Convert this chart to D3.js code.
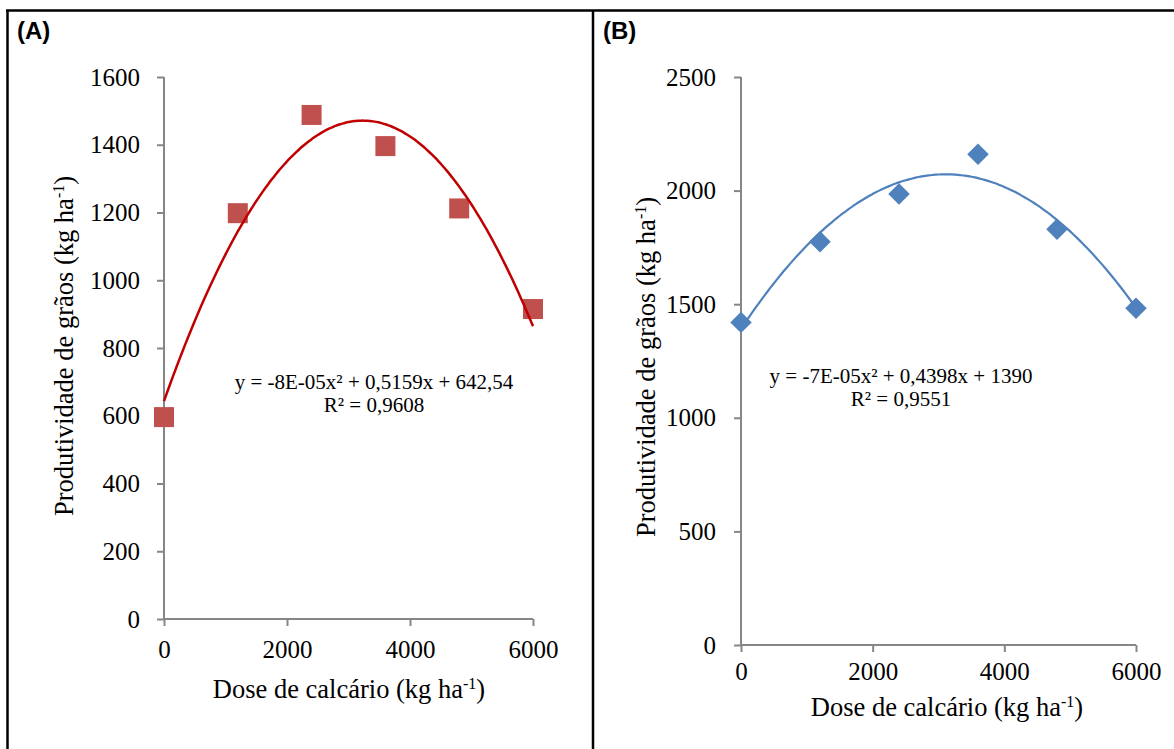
<!DOCTYPE html>
<html>
<head>
<meta charset="utf-8">
<script src="https://cdn.jsdelivr.net/npm/d3@7"></script>
<style>
  body { margin: 0; background: #fff; }
</style>
</head>
<body>
<div id="chart"></div>
<script>
// Data
var doses = [0, 1200, 2400, 3600, 4800, 6000]
var yieldA = [596, 1198, 1488, 1396, 1212, 915]
var yieldB = [1420, 1775, 1985, 2160, 1830, 1482]
var xTicks = [0, 2000, 4000, 6000]
var yTicksA = [0, 200, 400, 600, 800, 1000, 1200, 1400, 1600]
var yTicksB = [0, 500, 1000, 1500, 2000, 2500]
var eqA = ['y = -8E-05x² + 0,5159x + 642,54', 'R² = 0,9608']
var eqB = ['y = -7E-05x² + 0,4398x + 1390', 'R² = 0,9551']

// Settings
var settings = {}
settings.width = 1174
settings.height = 749
settings.font = 'Liberation Serif, Times New Roman, serif'
settings.font_size = 25
settings.title_font_size = 26.5
settings.eq_font_size = 21
settings.axis_color = '#868686'

var svg = d3.select('#chart').append('svg')
  .attr('width', settings.width)
  .attr('height', settings.height)

// Frame lines
var frame = svg.append('g').attr('stroke', '#000').attr('stroke-width', 2.5)
frame.append('line').attr('x1', 6).attr('x2', settings.width).attr('y1', 10.5).attr('y2', 10.5)
frame.append('line').attr('x1', 7.5).attr('x2', 7.5).attr('y1', 10).attr('y2', settings.height)
frame.append('line').attr('x1', 593).attr('x2', 593).attr('y1', 10).attr('y2', settings.height)

// Panel A
drawPanel({
  label: '(A)', labelX: 17,
  x0: 164, x1: 533, y0: 619, y1: 77,
  yMax: 1600, yTicks: yTicksA, yValues: yieldA,
  xPad: 14.5, yPad: 17,
  xTitle: [349, 690], yTitle: [65, 346],
  eq: eqA, eqPos: [374, 389],
  marker: 'square', markerColor: '#C0504D', lineColor: '#C00000', lineWidth: 2.5
})

// Panel B
drawPanel({
  label: '(B)', labelX: 603,
  x0: 741, x1: 1136, y0: 645, y1: 77,
  yMax: 2500, yTicks: yTicksB, yValues: yieldB,
  xPad: 10.5, yPad: 18,
  xTitle: [947, 708], yTitle: [647, 367],
  eq: eqB, eqPos: [901, 383],
  marker: 'diamond', markerColor: '#4F81BD', lineColor: '#4F81BD', lineWidth: 2.2
})

function drawPanel(p) {
  var x = d3.scaleLinear().domain([0, 6000]).range([p.x0, p.x1])
  var y = d3.scaleLinear().domain([0, p.yMax]).range([p.y0, p.y1])

  svg.append('text')
    .attr('x', p.labelX).attr('y', 39)
    .style('font-family', 'Liberation Sans, Arial, sans-serif')
    .style('font-weight', 'bold')
    .style('font-size', '24px')
    .text(p.label)

  // Axes
  var gx = svg.append('g')
    .attr('transform', 'translate(0,' + p.y0 + ')')
    .call(d3.axisBottom(x).tickValues(xTicks).tickSize(7).tickPadding(p.xPad).tickFormat(d3.format('d')))
  var gy = svg.append('g')
    .attr('transform', 'translate(' + p.x0 + ',0)')
    .call(d3.axisLeft(y).tickValues(p.yTicks).tickSize(7).tickPadding(p.yPad).tickFormat(d3.format('d')))

  ;[gx, gy].forEach(function(g) {
    g.select('.domain').attr('stroke', settings.axis_color).attr('stroke-width', 2)
      .attr('d', g === gx ? 'M' + p.x0 + ',0H' + p.x1 : 'M0,' + p.y0 + 'V' + p.y1)
    g.selectAll('.tick line').attr('stroke', settings.axis_color).attr('stroke-width', 2)
    g.selectAll('.tick text')
      .attr('fill', '#000')
      .style('font-family', settings.font)
      .style('font-size', settings.font_size + 'px')
  })

  // Axis titles
  var xt = svg.append('text')
    .attr('x', p.xTitle[0]).attr('y', p.xTitle[1] + 8)
    .attr('text-anchor', 'middle')
    .style('font-family', settings.font)
    .style('font-size', settings.title_font_size + 'px')
  addUnitText(xt, 'Dose de calcário (kg ha')

  var yt = svg.append('text')
    .attr('transform', 'translate(' + (p.yTitle[0] + 8) + ',' + p.yTitle[1] + ') rotate(-90)')
    .attr('text-anchor', 'middle')
    .style('font-family', settings.font)
    .style('font-size', settings.title_font_size + 'px')
  addUnitText(yt, 'Produtividade de grãos (kg ha')

  // Quadratic trendline fitted from the points
  var coef = fitQuadratic(doses, p.yValues)
  var curveX = d3.range(0, 6001, 50)
  var line = d3.line()
    .x(function(d) { return x(d) })
    .y(function(d) { return y(coef[0] + coef[1] * d + coef[2] * d * d) })
    .curve(d3.curveBasis)

  var ptsG = svg.append('g')
  var sym = p.marker === 'square'
    ? d3.symbol(d3.symbolSquare, 400)
    : d3.symbol(d3.symbolSquare, 230)
  ptsG.selectAll('path').data(doses).enter().append('path')
    .attr('d', sym)
    .attr('transform', function(d, i) {
      return 'translate(' + x(d) + ',' + y(p.yValues[i]) + ')' + (p.marker === 'diamond' ? ' rotate(45)' : '')
    })
    .attr('fill', p.markerColor)

  svg.append('path')
    .attr('d', line(curveX))
    .attr('fill', 'none')
    .attr('stroke', p.lineColor)
    .attr('stroke-width', p.lineWidth)

  // Equation
  p.eq.forEach(function(t, i) {
    svg.append('text')
      .attr('x', p.eqPos[0]).attr('y', p.eqPos[1] + i * 23)
      .attr('text-anchor', 'middle')
      .style('font-family', settings.font)
      .style('font-size', settings.eq_font_size + 'px')
      .text(t)
  })
}

function addUnitText(el, s) {
  el.append('tspan').text(s)
  el.append('tspan').attr('dy', -9).style('font-size', '16px').text('-1')
  el.append('tspan').attr('dy', 9).text(')')
}

// Least squares for y = c0 + c1 x + c2 x^2
function fitQuadratic(xs, ys) {
  var n = xs.length, s = [0, 0, 0, 0, 0], t = [0, 0, 0]
  for (var i = 0; i < n; i++) {
    var xi = xs[i] / 1000
    for (var k = 0; k < 5; k++) s[k] += Math.pow(xi, k)
    for (var k2 = 0; k2 < 3; k2++) t[k2] += ys[i] * Math.pow(xi, k2)
  }
  var A = [[s[0], s[1], s[2], t[0]], [s[1], s[2], s[3], t[1]], [s[2], s[3], s[4], t[2]]]
  for (var c = 0; c < 3; c++) {
    for (var r = c + 1; r < 3; r++) {
      var f = A[r][c] / A[c][c]
      for (var j = c; j < 4; j++) A[r][j] -= f * A[c][j]
    }
  }
  var sol = [0, 0, 0]
  for (var r2 = 2; r2 >= 0; r2--) {
    var v = A[r2][3]
    for (var j2 = r2 + 1; j2 < 3; j2++) v -= A[r2][j2] * sol[j2]
    sol[r2] = v / A[r2][r2]
  }
  return [sol[0], sol[1] / 1000, sol[2] / 1e6]
}
</script>
</body>
</html>
